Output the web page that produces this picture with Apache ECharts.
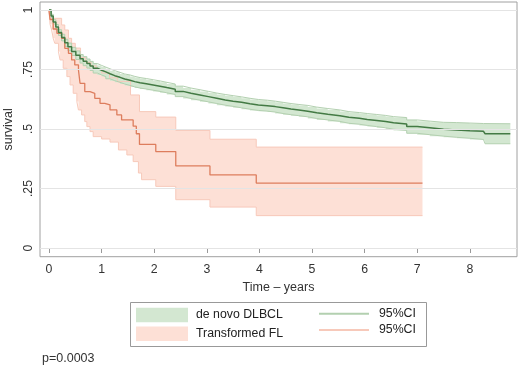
<!DOCTYPE html>
<html><head><meta charset="utf-8">
<script src="https://cdn.jsdelivr.net/npm/echarts@6/dist/echarts.min.js"></script>
<style>html,body{margin:0;padding:0;background:#fff}#c{width:520px;height:369px}</style>
</head><body><div id="c"></div>
<script>
// ---- data ----
const xTicks = [0,1,2,3,4,5,6,7,8];
const yTicks = [0,0.25,0.5,0.75,1];
const yTickLabels = ['0','.25','.5','.75','1'];

const dlbclTime  = [0,0.04,0.08,0.13,0.18,0.24,0.30,0.36,0.43,0.51,0.59,0.65,0.72,0.78,0.84,0.92,1.00,1.08,1.16,1.25,1.35,1.44,1.54,1.63,1.73,1.85,1.98,2.11,2.24,2.40,2.55,2.70,2.87,3.03,3.19,3.35,3.50,3.66,3.82,3.98,4.15,4.30,4.45,4.60,4.75,4.92,5.09,5.30,5.53,5.70,5.90,6.05,6.23,6.40,6.55,6.80,7.00,7.24,7.50,7.75,8.00,8.26,8.29,8.77];
const dlbclSurv  = [1,0.975,0.950,0.928,0.905,0.884,0.862,0.845,0.826,0.810,0.795,0.785,0.775,0.765,0.755,0.747,0.740,0.732,0.724,0.717,0.710,0.705,0.699,0.694,0.690,0.685,0.680,0.674,0.667,0.658,0.650,0.643,0.636,0.629,0.622,0.617,0.612,0.606,0.601,0.598,0.594,0.589,0.584,0.580,0.575,0.568,0.562,0.556,0.549,0.545,0.540,0.536,0.531,0.526,0.521,0.510,0.505,0.499,0.496,0.493,0.490,0.487,0.480,0.480];
const dlbclLower = [1,0.968,0.941,0.917,0.893,0.870,0.847,0.829,0.809,0.792,0.777,0.766,0.756,0.746,0.735,0.727,0.720,0.711,0.703,0.696,0.689,0.683,0.677,0.672,0.668,0.663,0.658,0.652,0.645,0.636,0.628,0.621,0.614,0.607,0.600,0.595,0.589,0.583,0.578,0.575,0.571,0.565,0.560,0.556,0.551,0.544,0.538,0.532,0.524,0.520,0.515,0.510,0.505,0.499,0.494,0.482,0.476,0.470,0.465,0.461,0.456,0.452,0.438,0.438];
const dlbclUpper = [1,0.982,0.959,0.939,0.917,0.898,0.877,0.861,0.843,0.828,0.813,0.804,0.794,0.784,0.775,0.767,0.760,0.753,0.745,0.738,0.731,0.727,0.721,0.716,0.712,0.707,0.702,0.696,0.689,0.680,0.672,0.665,0.658,0.651,0.645,0.640,0.635,0.629,0.624,0.621,0.617,0.612,0.607,0.603,0.599,0.592,0.586,0.580,0.573,0.569,0.565,0.561,0.557,0.552,0.548,0.538,0.533,0.528,0.527,0.525,0.523,0.522,0.522,0.522];

const flTime = [0,0.02,0.08,0.15,0.24,0.30,0.37,0.43,0.49,0.56,0.59,0.68,0.78,0.87,0.97,1.06,1.16,1.29,1.38,1.60,1.66,1.72,2.03,2.41,3.06,3.94,7.10];
const flSurv = [1,0.960,0.920,0.902,0.881,0.839,0.818,0.790,0.769,0.748,0.692,0.657,0.650,0.629,0.608,0.601,0.580,0.559,0.538,0.512,0.480,0.435,0.405,0.345,0.307,0.273,0.273];

const flUpperTime = [0,0.02,0.24,0.30,0.37,0.43,0.50,0.60,0.70,0.80,0.90,1.00,1.15,1.30,1.55,1.72,2.03,2.41,3.06,3.94,7.10];
const flUpper     = [1,0.965,0.937,0.916,0.881,0.860,0.840,0.800,0.780,0.765,0.750,0.735,0.715,0.700,0.643,0.573,0.550,0.494,0.457,0.424,0.424];

const flLowerTime = [0,0.02,0.05,0.08,0.11,0.18,0.21,0.27,0.34,0.40,0.46,0.53,0.56,0.62,0.68,0.72,0.78,0.84,1.00,1.16,1.32,1.48,1.60,1.70,1.76,2.03,2.41,3.06,3.94,7.10];
const flLower     = [1,0.940,0.916,0.881,0.860,0.825,0.790,0.755,0.720,0.685,0.650,0.615,0.580,0.559,0.531,0.510,0.489,0.468,0.458,0.445,0.412,0.391,0.363,0.315,0.287,0.259,0.203,0.172,0.136,0.136];

// ---- helpers ----
const zip = (a,b) => a.map((v,i) => [v,b[i]]);
const FONT = 'Liberation Sans';
const C = {
  gFill:'#d3e7d1', gEdge:'#b3d0b0', gLine:'#437a44',
  pFill:'#fde0d6', pEdge:'#f7c9ba', pLine:'#dd7d5d'
};

function bandRender(upT, upV, loT, loV, fill){
  return function(params, api){
    if (params.dataIndex !== 0) return;
    const pts = [];
    for (let i = 0; i < upT.length; i++) {
      if (i > 0) pts.push(api.coord([upT[i], upV[i-1]]));
      pts.push(api.coord([upT[i], upV[i]]));
    }
    for (let i = loT.length - 1; i >= 0; i--) {
      pts.push(api.coord([loT[i], loV[i]]));
      if (i > 0) pts.push(api.coord([loT[i], loV[i-1]]));
    }
    return {type:'polygon', shape:{points:pts}, style:{fill:fill}};
  };
}
function edge(name, data, color){
  return {type:'line', name:name, data:data, step:'end', symbol:'none', showSymbol:false,
    silent:true, lineStyle:{color:color, width:1}, itemStyle:{color:color}, animation:false};
}

const chart = echarts.init(document.getElementById('c'), null, {renderer:'canvas'});
chart.setOption({
  animation:false,
  backgroundColor:'#fff',
  grid:{left:40, top:2, right:3, bottom:112.3, show:true, borderColor:'#a0a0a0', borderWidth:1,
        containLabel:false, outerBoundsMode:'none'},
  xAxis:{
    type:'value', min:-0.171, max:8.897,
    axisLine:{show:false}, splitLine:{show:false},
    axisTick:{show:true, customValues:xTicks, length:5, lineStyle:{color:'#999'}},
    axisLabel:{customValues:xTicks, color:'#333', fontSize:12.3, fontFamily:FONT, margin:7},
    name:'Time – years', nameLocation:'middle', nameGap:23,
    nameTextStyle:{color:'#333', fontSize:12.5, fontFamily:FONT}
  },
  yAxis:{
    type:'value', min:-0.0365, max:1.0335,
    axisLine:{show:false}, splitLine:{show:false},
    axisTick:{show:true, customValues:yTicks, length:4, lineStyle:{color:'#999'}},
    axisLabel:{customValues:yTicks, rotate:90, margin:5, color:'#333', fontSize:12.3, fontFamily:FONT,
      formatter:(v)=>{const i=yTicks.indexOf(v); return i>=0?yTickLabels[i]:'';}},
    name:'survival', nameLocation:'middle', nameGap:24, nameRotate:90,
    nameTextStyle:{color:'#333', fontSize:12.5, fontFamily:FONT}
  },
  legend:[
    {left:136, top:307.7, orient:'vertical', itemWidth:52, itemHeight:14.5, itemGap:4.4, selectedMode:false,
     padding:0, textStyle:{color:'#222', fontSize:12.3, fontFamily:FONT, padding:[0,0,0,3]},
     data:[{name:'de novo DLBCL', icon:'rect'},{name:'Transformed FL', icon:'rect'}]},
    {left:318, top:307.7, orient:'vertical', itemWidth:50, itemHeight:14.5, itemGap:4.4, selectedMode:false,
     padding:0, textStyle:{color:'#222', fontSize:12.3, fontFamily:FONT, padding:[0,0,0,5]},
     itemStyle:{opacity:0, borderWidth:0},
     formatter:()=> '95%CI',
     data:['95%CI DLBCL','95%CI FL']}
  ],
  graphic:[
    {type:'rect', shape:{x:130.5, y:302.5, width:296, height:44}, style:{fill:'none', stroke:'#999', lineWidth:1}, silent:true},
    {type:'text', left:42, top:352, style:{text:'p=0.0003', font:'12.5px "Liberation Sans"', fill:'#333'}, silent:true}
  ],
  series:[
    {type:'line', name:'grid', data:[], silent:true,
     markLine:{silent:true, symbol:'none', label:{show:false}, animation:false,
       lineStyle:{color:'#e4e4e4', type:'solid', width:1},
       data: yTicks.map(v=>({yAxis:v}))}},
    {type:'custom', name:'Transformed FL', data:[[0,1]], encode:{x:0,y:1}, silent:true,
     itemStyle:{color:C.pFill}, renderItem: bandRender(flUpperTime, flUpper, flLowerTime, flLower, C.pFill)},
    edge('95%CI FL', zip(flUpperTime, flUpper), C.pEdge),
    edge('95%CI FL', zip(flLowerTime, flLower), C.pEdge),
    {type:'custom', name:'de novo DLBCL', data:[[0,1]], encode:{x:0,y:1}, silent:true,
     itemStyle:{color:C.gFill}, renderItem: bandRender(dlbclTime, dlbclUpper, dlbclTime, dlbclLower, C.gFill)},
    edge('95%CI DLBCL', zip(dlbclTime, dlbclUpper), C.gEdge),
    edge('95%CI DLBCL', zip(dlbclTime, dlbclLower), C.gEdge),
    {type:'line', name:'FL KM', data:zip(flTime, flSurv), step:'end', symbol:'none', silent:true,
     lineStyle:{color:C.pLine, width:1.3}},
    {type:'line', name:'DLBCL KM', data:zip(dlbclTime, dlbclSurv), step:'end', symbol:'none', silent:true,
     lineStyle:{color:C.gLine, width:1.5}}
  ]
});
</script>
</body></html>
